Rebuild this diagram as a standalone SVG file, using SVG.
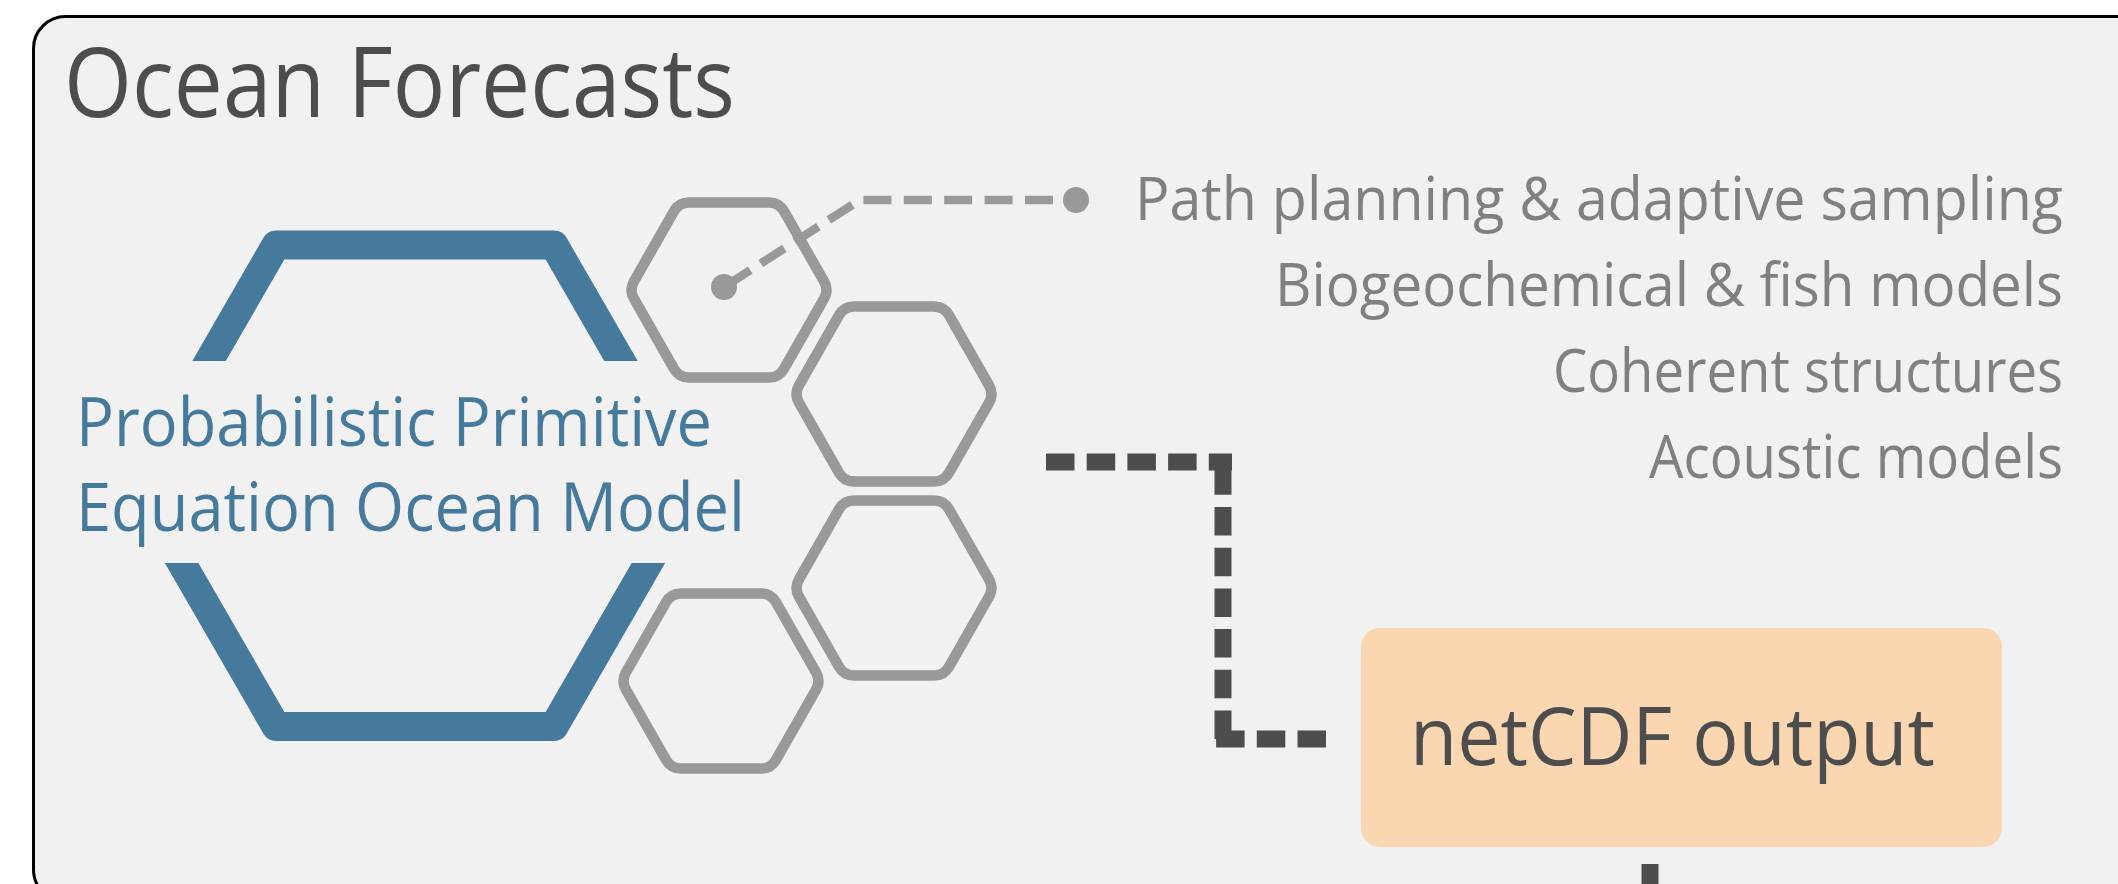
<svg xmlns="http://www.w3.org/2000/svg" width="2118" height="884" viewBox="0 0 2118 884">
<style>
.t{font-family:"Open Sans","Noto Sans","DejaVu Sans",sans-serif;}
.title{font-size:97px;fill:#4d4d4d}
.model{font-size:67px;fill:#467a9c}
.app{font-size:60px;fill:#808080}
.out{font-size:81px;fill:#4d4d4d}
.hex{fill:none;stroke:#999999;stroke-width:10.5;stroke-linejoin:round}
.lead{fill:none;stroke:#999999;stroke-width:8.5;stroke-dasharray:28 12.4}
.flow{fill:none;stroke:#4d4d4d;stroke-width:17;stroke-dasharray:28.5 12.2}
.dot{fill:#999999}
</style>
<defs>
<path id="hexshape" d="M-95.04,-8.68 L-54.96,-78.82 Q-50,-87.5 -40,-87.5 L40,-87.5 Q50,-87.5 54.96,-78.82 L95.04,-8.68 Q100,0 95.04,8.68 L54.96,78.82 Q50,87.5 40,87.5 L-40,87.5 Q-50,87.5 -54.96,78.82 L-95.04,8.68 Q-100,0 -95.04,-8.68 Z"/>
<clipPath id="gap"><rect x="0" y="0" width="900" height="361"/><rect x="0" y="563" width="900" height="321"/></clipPath>
</defs>
<rect x="0" y="0" width="2118" height="884" fill="#ffffff"/>
<g id="frame">
<rect x="33.5" y="16.5" width="2200" height="885" rx="32" ry="32" fill="#f1f1f1" stroke="#000000" stroke-width="3"/>
<text class="t title" x="64" y="117" textLength="671" lengthAdjust="spacingAndGlyphs">Ocean Forecasts</text>
</g>
<g id="model">
<polygon points="276,245 554,245 693,485.75 554,726.5 276,726.5 137,485.75" fill="none" stroke="#467a9c" stroke-width="29" stroke-linejoin="round" clip-path="url(#gap)"/>
<text class="t model" x="76" y="446" textLength="636" lengthAdjust="spacingAndGlyphs">Probabilistic Primitive</text>
<text class="t model" x="76" y="531" textLength="669" lengthAdjust="spacingAndGlyphs">Equation Ocean Model</text>
</g>
<g id="hex-a"><use href="#hexshape" class="hex" x="729" y="290"/></g>
<g id="hex-b"><use href="#hexshape" class="hex" x="894" y="394"/></g>
<g id="hex-c"><use href="#hexshape" class="hex" x="894" y="588"/></g>
<g id="hex-d"><use href="#hexshape" class="hex" x="721" y="681"/></g>
<g id="applications">
<text class="t app" x="1135" y="220" textLength="928" lengthAdjust="spacingAndGlyphs">Path planning &amp; adaptive sampling</text>
<text class="t app" x="1275" y="306" textLength="788" lengthAdjust="spacingAndGlyphs">Biogeochemical &amp; fish models</text>
<text class="t app" x="1553" y="392" textLength="510" lengthAdjust="spacingAndGlyphs">Coherent structures</text>
<text class="t app" x="1649" y="478" textLength="414" lengthAdjust="spacingAndGlyphs">Acoustic models</text>
</g>
<g id="netcdf">
<rect x="1361" y="628" width="641" height="219" rx="19" ry="19" fill="#fad7b1"/>
<text class="t out" x="1410" y="765" textLength="525" lengthAdjust="spacingAndGlyphs">netCDF output</text>
</g>
<g id="connectors">
<path class="lead" d="M1053,200 L860,200 L724,287"/>
<circle class="dot" cx="724" cy="287" r="13"/>
<circle class="dot" cx="1076" cy="200" r="13"/>
<path class="flow" d="M1046,462 L1232,462"/>
<path class="flow" d="M1223,739 L1223,454"/>
<path class="flow" d="M1326,739 L1215,739"/>
<path class="flow" d="M1650,864 L1650,884" stroke-dasharray="none"/>
</g>
</svg>
